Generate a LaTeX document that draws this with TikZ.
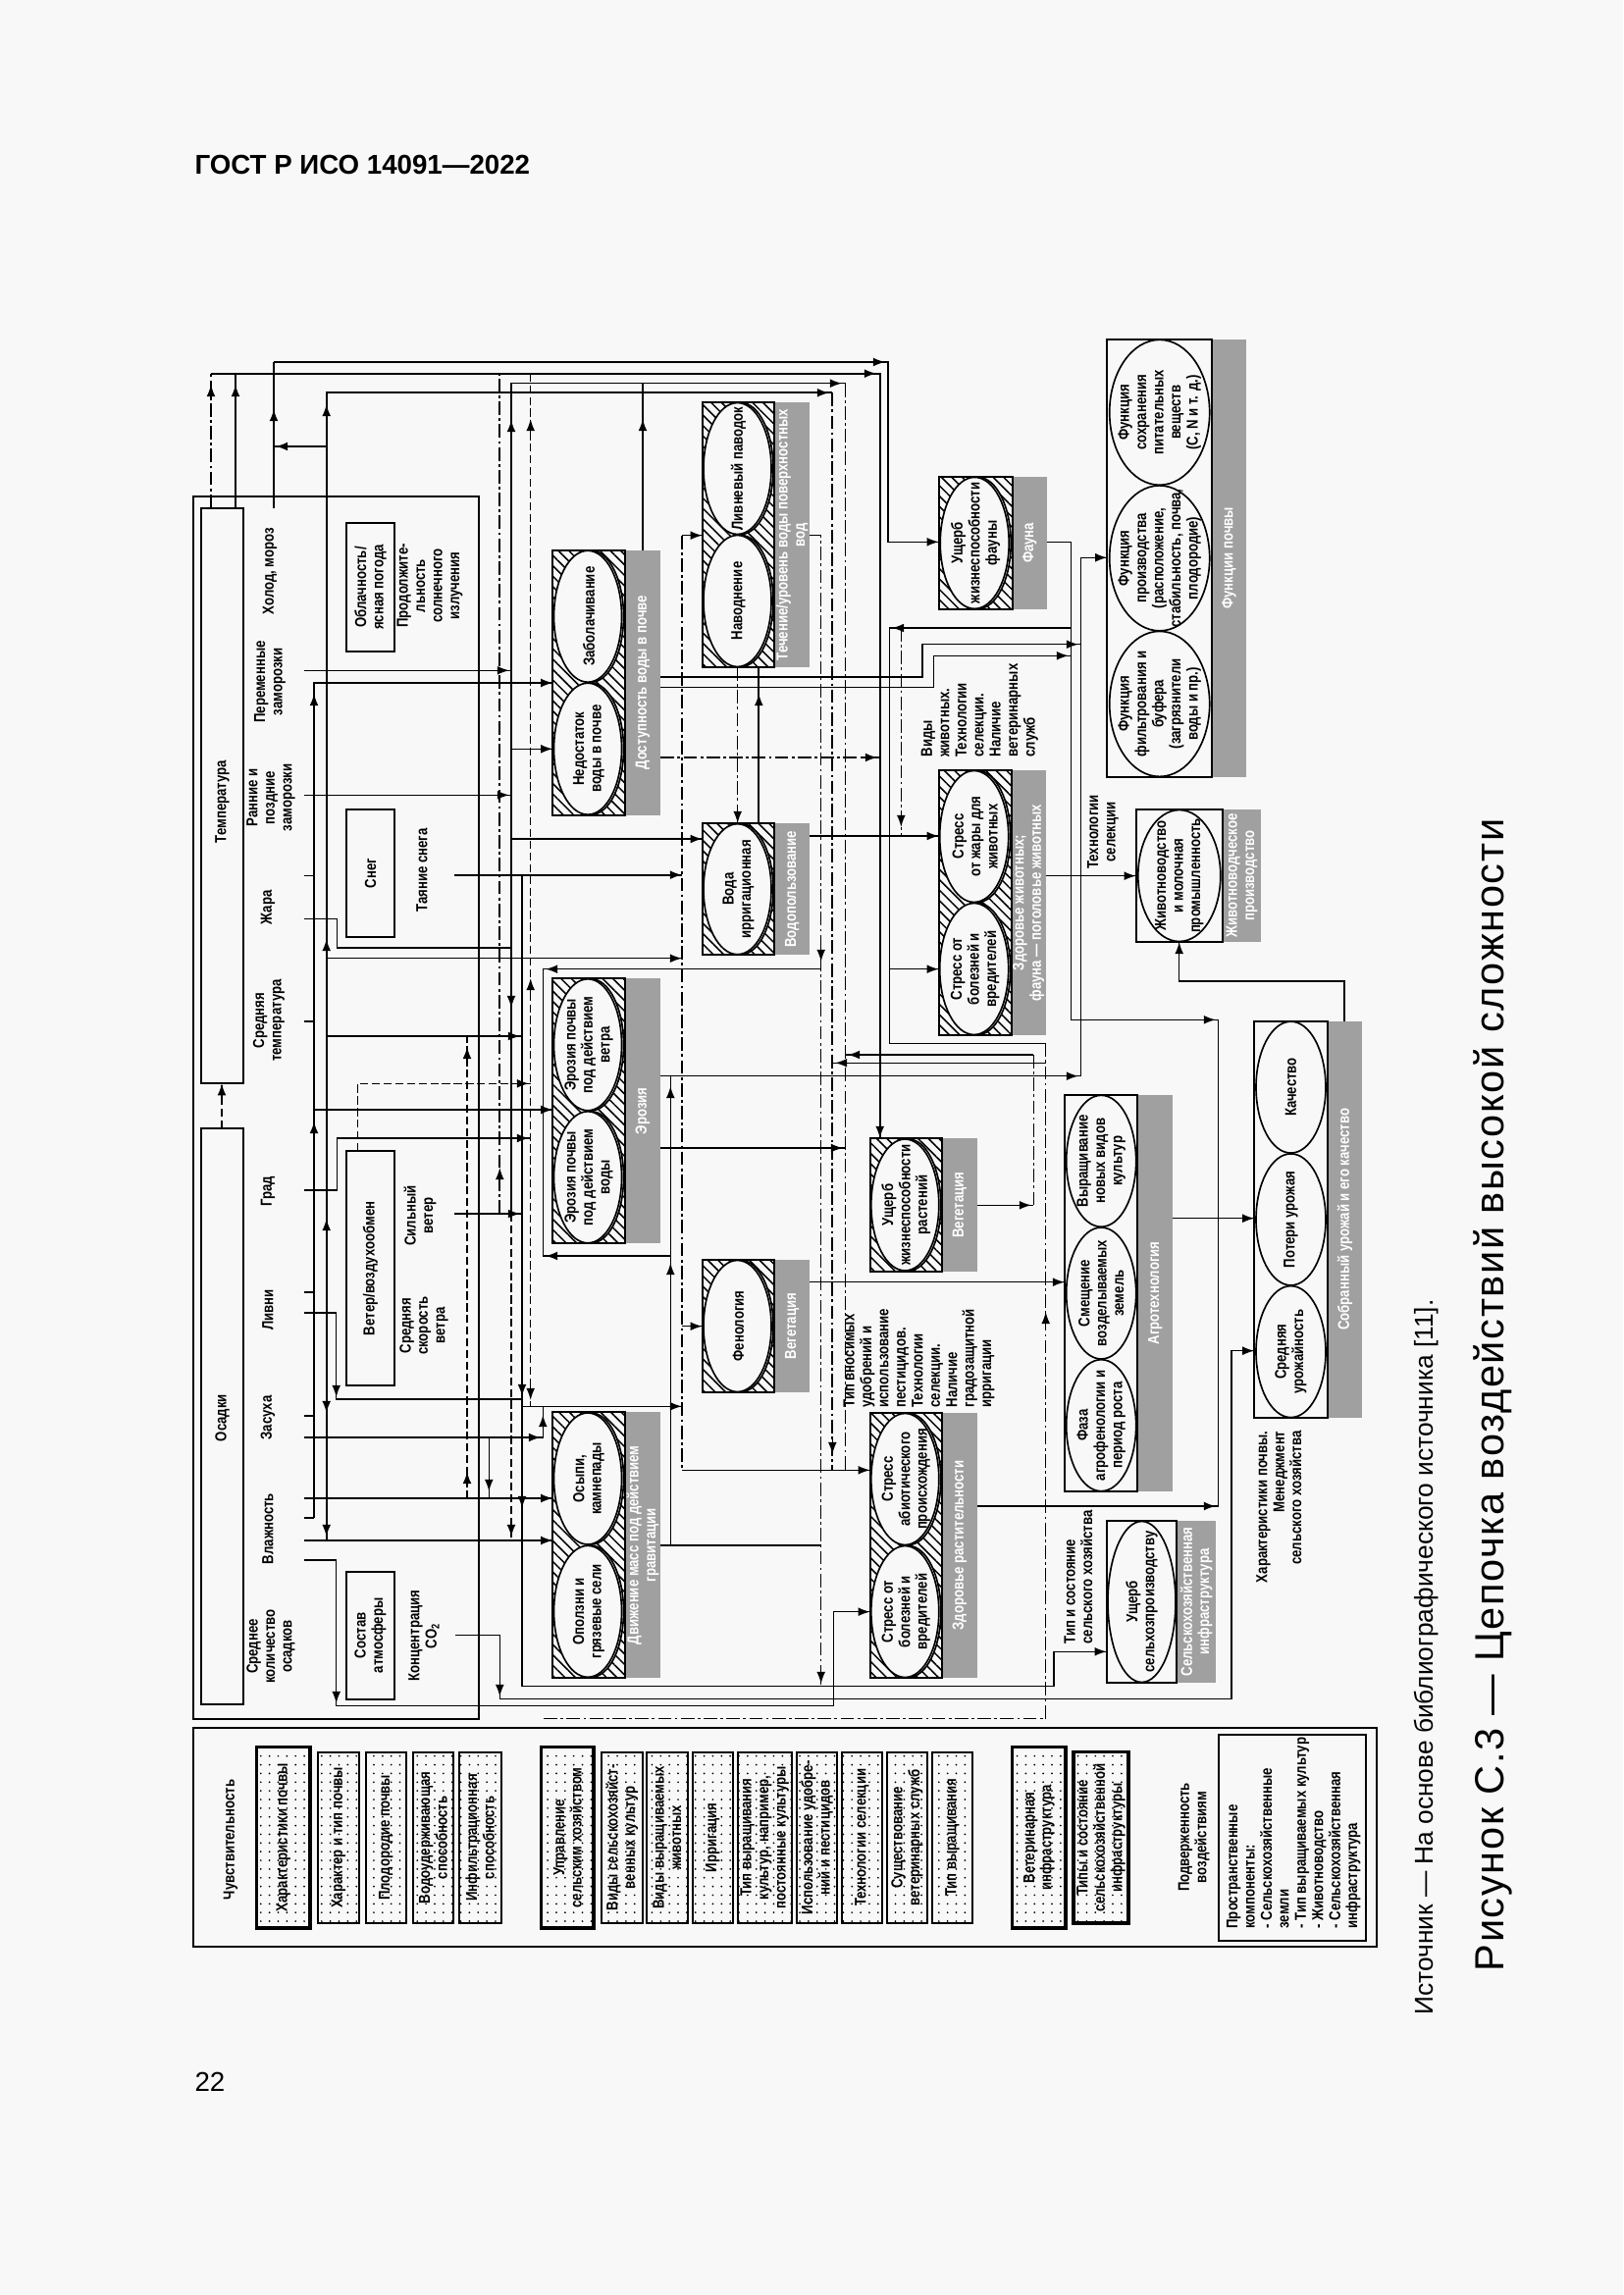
\documentclass[tikz,border=0pt]{standalone}
\usepackage{fontspec}
\setmainfont{Liberation Sans}
\newfontfamily\dfont{Liberation Sans}[FakeStretch=0.82]
\newfontfamily\capfont{Liberation Sans}[LetterSpace=4]
\usetikzlibrary{arrows.meta,patterns.meta}
\definecolor{lg}{RGB}{160,160,160}
\definecolor{bgc}{RGB}{248,248,248}
\tikzset{
 ln/.style={line width=0.55pt},
 tk/.style={line width=0.85pt},
 dd/.style={dash pattern=on 5pt off 1.2pt on 1pt off 1.2pt},
 ds/.style={dash pattern=on 3pt off 1.3pt},
 ah/.style={line width=0.55pt,-{Latex[length=4.4pt,width=3.2pt]}},
 tx/.style={font=\dfont\bfseries\fontsize{5.8}{6.3}\selectfont, rotate=90, align=center, inner sep=0pt},
 gl/.style={tx,text=white},
 bx/.style={draw,line width=0.6pt},
 hb/.style={draw,line width=0.7pt,pattern={Lines[angle=-45,distance=2.7pt,line width=0.55pt]}},
 el/.style={draw,line width=0.6pt,fill=bgc},
 ldot/.style={draw,line width=0.6pt,pattern={Dots[radius=0.35pt,distance=3.2pt]}},
 ldoth/.style={draw,line width=1.1pt,pattern={Dots[radius=0.35pt,distance=3.2pt]}},
}
\newcommand\aU[2]{\draw[ah] (#1,{#2+16}) -- (#1,#2);}
\newcommand\aD[2]{\draw[ah] (#1,{#2-16}) -- (#1,#2);}
\newcommand\aR[2]{\draw[ah] ({#1-16},#2) -- (#1,#2);}
\newcommand\aL[2]{\draw[ah] ({#1+16},#2) -- (#1,#2);}
\newcommand\hgrp[7]{%
  \fill[lg] (#2,#4) rectangle (#3,#5);
  \draw[hb] (#1,#4) rectangle (#2,#5);
  \node[gl] (#6) at ({(#2+#3)/2},{(#4+#5)/2}) {#7};}
\newcommand\pgrp[7]{%
  \fill[lg] (#2,#4) rectangle (#3,#5);
  \draw[bx] (#1,#4) rectangle (#2,#5);
  \node[gl] (#6) at ({(#2+#3)/2},{(#4+#5)/2}) {#7};}
\newcommand\dell[6]{%
  \draw[el] ({#1+2.5},#2) ellipse [x radius={(#3-1.5)*0.012697cm}, y radius={#4*0.012697cm}];
  \draw[el] ({#1-1},#2) ellipse [x radius={#3*0.012697cm}, y radius={#4*0.012697cm}];
  \node[tx] (#5) at (#1,#2) {#6};}
\newcommand\sell[6]{%
  \draw[el] (#1,#2) ellipse [x radius={#3*0.012697cm}, y radius={#4*0.012697cm}];
  \node[tx] (#5) at (#1,#2) {#6};}
\newcommand\lbox[7]{%
  \draw[#5] (#1,#3) rectangle (#2,#4);
  \node[tx] (#6) at ({(#1+#2)/2},{(#3+#4)/2}) {#7};}
\begin{document}
\begin{tikzpicture}[x=0.012697cm,y=-0.012697cm]
\useasboundingbox (0,0) rectangle (1654,2339);
\fill[bgc] (0,0) rectangle (1654,2339);
% header, page number, captions
\node[anchor=base west, inner sep=0pt, font=\bfseries\fontsize{10}{12}\selectfont] (hdr) at (198,178) {ГОСТ Р ИСО 14091—2022};
\node[anchor=base west, inner sep=0pt, font=\fontsize{10}{12}\selectfont] (pnum) at (198,2131) {22};
\node[rotate=90, inner sep=0pt, font=\fontsize{9.5}{11}\selectfont] (src) at (1454,1689) {Источник — На основе библиографического источника [11].};
\node[rotate=90, inner sep=0pt, font=\capfont\fontsize{15}{18}\selectfont] (cap) at (1521,1422) {Рисунок С.3 — Цепочка воздействий высокой сложности};

% ===== climate box =====
\draw[bx] (196.7,505.7) rectangle (487.7,1751.7);
\draw[bx,line width=0.8pt] (205,517.7) rectangle (248,1104.3);
\node[tx] (temp) at (226.5,817) {Температура};
\draw[bx,line width=0.8pt] (205,1150) rectangle (248,1736.7);
\node[tx] (osad) at (226.5,1445) {Осадки};
\draw[ln,ds] (226,1150) -- (226,1104.3); \aU{226}{1104.3}
\node[tx] (holod) at (275,582) {Холод, мороз};
\node[tx] (perem) at (275,695) {Переменные\\заморозки};
\node[tx] (rann) at (276,813) {Ранние и\\поздние\\заморозки};
\node[tx] (zhara) at (273,925) {Жара};
\node[tx] (sredt) at (274,1040) {Средняя\\температура};
\node[tx] (grad) at (273,1214) {Град};
\node[tx] (livni) at (273,1335) {Ливни};
\node[tx] (zasuha) at (273,1445) {Засуха};
\node[tx] (vlazh) at (273,1558) {Влажность};
\node[tx] (sredo) at (276,1678) {Среднее\\количество\\осадков};
\draw[bx] (353,533) rectangle (402,664);
\node[tx] (obl) at (377.5,598.5) {Облачность/\\ясная погода};
\node[tx] (prod) at (438,597) {Продолжите-\\льность\\солнечного\\излучения};
\draw[bx] (353,825) rectangle (402,955);
\node[tx] (sneg) at (377.5,890) {Снег};
\node[tx] (tayan) at (430,887) {Таяние снега};
\draw[bx] (353,1173.3) rectangle (402,1412.3);
\node[tx] (veter) at (377.5,1292.8) {Ветер/воздухообмен};
\node[tx] (silv) at (428,1239) {Сильный\\ветер};
\node[tx] (sredv) at (432,1351) {Средняя\\скорость\\ветра};
\draw[bx] (353,1601.7) rectangle (402,1732);
\node[tx] (sostav) at (377.5,1666.8) {Состав\\атмосферы};
\node[tx] (co2) at (432,1667) {Концентрация\\CO\textsubscript{2}};

% ===== groups =====
\hgrp{563.3}{636.7}{673.3}{560.7}{830.7}{g1}{Доступность воды в почве}
\dell{600}{628.2}{34.5}{67}{e1a}{Заболачивание}
\dell{600}{763.2}{34.5}{67}{e1b}{Недостаток\\воды в почве}
\hgrp{715.7}{789.3}{825}{410}{680}{g2}{Течение/уровень воды поверхностных\\вод}
\dell{752.5}{477.5}{34.5}{67}{e2a}{Ливневый паводок}
\dell{752.5}{612.5}{34.5}{67}{e2b}{Наводнение}
\hgrp{715.7}{789.3}{825}{839}{973.3}{g3}{Водопользование}
\dell{752.5}{906.2}{34.5}{66.5}{e3}{Вода\\ирригационная}
\hgrp{956.7}{1031.7}{1066.7}{485.7}{621}{g4}{Фауна}
\dell{994.2}{553.4}{35}{67}{e4}{Ущерб\\жизнеспособности\\фауны}
\hgrp{563.3}{636.7}{673.3}{997.3}{1267.3}{g5}{Эрозия}
\dell{600}{1064.8}{34.5}{67}{e5a}{Эрозия почвы\\под действием\\ветра}
\dell{600}{1199.8}{34.5}{67}{e5b}{Эрозия почвы\\под действием\\воды}
\hgrp{715.7}{789.3}{825}{1284}{1419}{g6}{Вегетация}
\dell{752.5}{1351.5}{34.5}{67}{e6}{Фенология}
\hgrp{563.3}{636.7}{673.3}{1439.3}{1710}{g7}{Движение масс под действием\\гравитации}
\dell{600}{1507}{34.5}{67}{e7a}{Осыпи,\\камнепады}
\dell{600}{1642.3}{34.5}{67}{e7b}{Оползни и\\грязевые сели}
\hgrp{886.7}{960}{995.7}{1440}{1710}{g8}{Здоровье растительности}
\dell{923.3}{1507.5}{34.5}{67}{e8a}{Стресс\\абиотического\\происхождения}
\dell{923.3}{1642.5}{34.5}{67}{e8b}{Стресс от\\болезней и\\вредителей}
\hgrp{886.7}{960}{995.7}{1160}{1296}{g9}{Вегетация}
\dell{923.3}{1228}{34.5}{67}{e9}{Ущерб\\жизнеспособности\\растений}
\hgrp{956.7}{1030.7}{1065.7}{785}{1055}{g10}{Здоровье животных;\\фауна — поголовье животных}
\dell{993.7}{852.5}{35}{67}{e10a}{Стресс\\от жары для\\животных}
\dell{993.7}{987.5}{35}{67}{e10b}{Стресс от\\болезней и\\вредителей}
\pgrp{1157.7}{1246}{1285}{825}{960}{g11}{Животноводческое\\производство}
\sell{1201.8}{892.5}{42}{67}{e11}{Животноводство\\и молочная\\промышленность}
\pgrp{1128.3}{1235}{1270}{346}{791.7}{g12}{Функции почвы}
\sell{1181.7}{420.3}{51}{74}{e12a}{Функция\\сохранения\\питательных\\веществ\\(C, N и т. д.)}
\sell{1181.7}{568.9}{51}{74}{e12b}{Функция\\производства\\(расположение,\\стабильность, почва,\\плодородие)}
\sell{1181.7}{717.4}{51}{74}{e12c}{Функция\\фильтрования и\\буфера\\(загрязнители\\воды и пр.)}
\pgrp{1085}{1159.3}{1195}{1116}{1520}{g13}{Агротехнология}
\sell{1122.2}{1183.3}{35.5}{67}{e13a}{Выращивание\\новых видов\\культур}
\sell{1122.2}{1318}{35.5}{67}{e13b}{Смещение\\возделываемых\\земель}
\sell{1122.2}{1452.7}{35.5}{67}{e13c}{Фаза\\агрофенологии и\\период роста}
\pgrp{1278.3}{1352.7}{1388.3}{1040.7}{1445}{g14}{Собранный урожай и его качество}
\sell{1315.5}{1108.1}{35.5}{67}{e14a}{Качество}
\sell{1315.5}{1242.9}{35.5}{67}{e14b}{Потери урожая}
\sell{1315.5}{1377.6}{35.5}{67}{e14c}{Средняя\\урожайность}
\pgrp{1127.7}{1199.3}{1239}{1550}{1715}{g15}{Сельскохозяйственная\\инфраструктура}
\sell{1163.5}{1632.5}{34.5}{82}{e15}{Ущерб\\сельхозпроизводству}

% notes
\node[tx, align=left, anchor=west] (t1) at (998.4,772) {Виды\\животных.\\Технологии\\селекции.\\Наличие\\ветеринарных\\служб};
\node[tx, align=left, anchor=west] (t2) at (936.5,1435) {Тип вносимых\\удобрений и\\использование\\пестицидов.\\Технологии\\селекции.\\Наличие\\градозащитной\\ирригации};
\node[tx, align=left, anchor=west] (t3) at (1099,1676) {Тип и состояние\\сельского хозяйства};
\node[tx, align=right, anchor=east] (t4) at (1303.3,1458) {Характеристики почвы.\\Менеджмент\\сельского хозяйства};
\node[tx] (t5) at (1124,848) {Технологии\\селекции};

% ===== connectors =====
\draw[tk] (279,517.7) -- (279,369); \aU{279}{417}
\draw[ln] (279,369) -- (905,369) -- (905,552.3) -- (956.7,552.3); \aR{902}{369} \aR{956.7}{552.3}
\draw[ln,dd] (215,517.7) -- (215,380.7); \aU{215}{392}
\draw[ln] (240,517.7) -- (240,380.7); \aU{240}{392}
\draw[tk] (215,380.7) -- (896.7,380.7) -- (896.7,1160); \aR{893}{380.7} \aD{896.7}{1160}
\draw[ln] (521,1237) -- (521,390.7) -- (861.7,390.7); \aU{521}{428} \aR{858}{390.7} \aD{521}{1027}
\draw[ln,ds] (521,1237) -- (521,1570); \aD{521}{1566}
\draw[ln,dd] (861.7,390.7) -- (861.7,1498.3);
\draw[tk] (332.7,1570) -- (332.7,400.3) -- (848.3,400.3); \aU{332.7}{412} \aR{845}{400.3}
\draw[tk,dd] (848.3,400.3) -- (848.3,1498.3); \aD{848.3}{1482}
\aU{332.7}{957} \aU{332.7}{1242} \aD{332.7}{1440} \aD{332.7}{1566}
\draw[ln] (332.7,455) -- (279,455); \aL{281}{455}
\draw[tk,dd] (509.3,1237) -- (509.3,380.7); \aU{509.3}{1190}
\draw[ln,ds] (540.7,380.7) -- (540.7,1433.3); \aU{540.7}{427} \aU{540.7}{997} \aD{540.7}{1427}
\draw[ln] (310,683.3) -- (521,683.3); \aR{519}{683.3}
\draw[tk] (320,1547) -- (320,696) -- (563.3,696); \aR{563.3}{696} \aU{320}{707} \aU{320}{1143}
\foreach \yy in {892.7,1041,1213,1317,1443,1547} {\draw[ln] (310,\yy) -- (320,\yy);}
\draw[ln] (521,763.3) -- (563.3,763.3); \aR{563.3}{763.3}
\draw[ln] (310,810.3) -- (521,810.3); \aR{519}{810.3}
\draw[ln] (521,855) -- (715.7,855); \aR{715.7}{855}
\draw[tk] (463.3,891.7) -- (695,891.7); \aR{695}{891.7}
\draw[ln] (532,891.7) -- (532,1718.3) -- (1074,1718.3) -- (1074,1683.3) -- (1127.7,1683.3); \aR{1127.7}{1683.3} \aD{532}{1423} \aD{532}{1537}
\draw[ln] (310,936.7) -- (343.3,936.7) -- (343.3,966) -- (521,966);
\draw[ln] (332.7,976.7) -- (695,976.7); \aR{695}{976.7}
\draw[ln] (332.7,1056) -- (532,1056); \aR{530}{1056}
\draw[tk,ds] (476,1527) -- (476,1056); \aU{476}{1067} \aU{476}{1500}
\draw[ln,ds] (364.7,1173.3) -- (364.7,1104.3) -- (540.7,1104.3); \aR{539}{1104.3}
\draw[ln] (320,1131) -- (563.3,1131); \aR{563.3}{1131}
\draw[ln] (310,1213) -- (343.3,1213) -- (343.3,1160) -- (540.7,1160); \aR{539}{1160}
\draw[ln] (463.3,1237) -- (532,1237); \aR{530}{1237}
\draw[ln] (310,1338) -- (342.7,1338) -- (342.7,1426) -- (532,1426); \aD{342.7}{1424}
\draw[ln] (836.7,987.7) -- (553.3,987.7) -- (553.3,1280) -- (683.3,1280); \aL{556}{987.7} \aL{556}{1280}
\draw[ln] (673.3,1575) -- (836.7,1575);
\draw[ln] (683.3,1575) -- (683.3,1096.7); \aU{683.3}{1287} \aU{683.3}{1107}
\draw[ln] (310,1465) -- (553.3,1465) -- (553.3,1433.3); \aR{551}{1465} \aU{553.3}{1442}
\draw[ln] (532,1433.3) -- (695,1433.3); \aR{695}{1433.3}
\draw[ln] (310,1527) -- (563.3,1527); \aR{563.3}{1527}
\draw[ln] (498.3,1465) -- (498.3,1527); \aD{498.3}{1520}
\draw[ln] (310,1570) -- (563.3,1570); \aR{563.3}{1570}
\draw[ln] (310,1590) -- (342.7,1590) -- (342.7,1738.3) -- (849.3,1738.3) -- (849.3,1642.7) -- (886.7,1642.7); \aD{342.7}{1736} \aR{886.7}{1642.7}
\draw[ln] (464,1666.7) -- (509.3,1666.7) -- (509.3,1731.7) -- (1255,1731.7) -- (1255,1376.7) -- (1278.3,1376.7); \aD{509.3}{1729} \aR{1278.3}{1376.7}
\draw[ln,dd] (825,545.7) -- (836.7,545.7) -- (836.7,1718.3); \aD{836.7}{980} \aD{836.7}{1716}
\draw[ln,dd] (695,545.7) -- (695,1498.3);
\draw[ln] (695,545.7) -- (715.7,545.7); \aR{715.7}{545.7}
\draw[ln] (695,1351.7) -- (715.7,1351.7); \aR{715.7}{1351.7}
\draw[ln] (695,1498.3) -- (886.7,1498.3); \aR{886.7}{1498.3}
\draw[ln] (655,560.7) -- (655,390.7); \aU{655}{427}
\draw[ln,dd] (751.7,680) -- (751.7,839); \aD{751.7}{839}
\draw[tk] (773.3,839) -- (773.3,680); \aU{773.3}{707}
\draw[ln,dd] (673.3,772) -- (896.7,772); \aR{894}{772}
\draw[ln] (673.3,690) -- (940,690) -- (940,656.7) -- (1101.7,656.7); \aR{1099}{656.7}
\draw[ln] (673.3,700.7) -- (951.7,700.7) -- (951.7,668.3) -- (1091.7,668.3); \aR{1089}{668.3}
\draw[ln] (1066.7,552.3) -- (1091.7,552.3) -- (1091.7,1039.3) -- (1241.7,1039.3) -- (1241.7,1535); \aR{1239}{1039.3}
\draw[ln] (1091.7,640) -- (906.7,640) -- (906.7,1063.3) -- (1065.7,1063.3); \aL{909}{640}
\draw[ln,dd] (1065.7,1063.3) -- (1065.7,1751.7) -- (551.7,1751.7); \aU{1065.7}{1337}
\draw[ln,dd] (1053.3,1075) -- (1053.3,1228.3);
\draw[ln,dd] (918.3,640) -- (918.3,852); \aD{918.3}{843}
\draw[ln] (825,852) -- (956.7,852); \aR{956.7}{852}
\draw[ln] (906.7,987.7) -- (956.7,987.7); \aR{956.7}{987.7}
\draw[ln] (673.3,1096.7) -- (1101.7,1096.7) -- (1101.7,568.3) -- (1128.3,568.3); \aR{1099}{1096.7} \aR{1128.3}{568.3}
\draw[ln] (1065.7,892.7) -- (1157.7,892.7); \aR{1157.7}{892.7}
\draw[ln] (1370,1040.7) -- (1370,1000) -- (1201.7,1000) -- (1201.7,960); \aU{1201.7}{960}
\draw[ln] (673.3,1170) -- (861.7,1170); \aR{859}{1170}
\draw[ln] (861.7,1075) -- (1053.3,1075); \aL{864}{1075}
\draw[ln] (995.7,1228.3) -- (1053.3,1228.3); \aR{1051}{1228.3}
\draw[ln] (848.3,1083.3) -- (1065.7,1083.3); \aL{851}{1083.3}
\draw[ln] (825,1306.7) -- (1085,1306.7); \aR{1085}{1306.7}
\draw[ln] (995.7,1535) -- (1241.7,1535); \aR{1239}{1535}
\draw[ln] (1195,1241.7) -- (1278.3,1241.7); \aR{1278.3}{1241.7}

% ===== legend =====
\draw[bx] (196.7,1761) rectangle (1403.3,1984);
\node[tx] (lsens) at (235,1875) {Чувствительность};
\lbox{261.7}{316}{1780.7}{1965}{ldoth}{la}{Характеристики почвы}
\lbox{324}{366}{1785.7}{1960}{ldot}{lb}{Характер и тип почвы}
\lbox{372.7}{414}{1785.7}{1960}{ldot}{lc}{Плодородие почвы}
\lbox{420.7}{462.3}{1785.7}{1960}{ldot}{ld}{Водоудерживающая\\способность}
\lbox{467.7}{510.7}{1785.7}{1960}{ldot}{le}{Инфильтрационная\\способность}
\lbox{551.7}{605}{1780.7}{1965}{ldoth}{lf}{Управление\\сельским хозяйством}
\lbox{612.7}{655}{1785.7}{1960}{ldot}{lg1}{Виды сельскохозяйст-\\венных культур}
\lbox{659}{700.7}{1785.7}{1960}{ldot}{lh}{Виды выращиваемых\\животных}
\lbox{706}{746.7}{1785.7}{1960}{ldot}{li}{Ирригация}
\lbox{751.7}{806.7}{1785.7}{1960}{ldot}{lj}{Тип выращивания\\культур, например,\\постоянные культуры}
\lbox{811.7}{853.3}{1785.7}{1960}{ldot}{lk}{Использование удобре-\\ний и пестицидов}
\lbox{857.7}{899}{1785.7}{1960}{ldot}{ll}{Технологии селекции}
\lbox{904}{945}{1785.7}{1960}{ldot}{lm}{Существование\\ветеринарных служб}
\lbox{950}{991}{1785.7}{1960}{ldot}{ln1}{Тип выращивания}
\lbox{1031.7}{1086}{1780.7}{1965}{ldoth}{lo}{Ветеринарная\\инфраструктура}
\lbox{1094}{1150}{1785.7}{1960}{ldoth}{lp}{Типы и состояние\\сельскохозяйственной\\инфраструктуры}
\node[tx] (lpodv) at (1216.7,1872.5) {Подверженность\\воздействиям};
\draw[bx] (1241.7,1767.7) rectangle (1391.7,1978.3);
\node[tx, align=left, anchor=west] (lspace) at (1318.3,1966) {Пространственные\\компоненты:\\- Сельскохозяйственные\\земли\\- Тип выращиваемых культур\\- Животноводство\\- Сельскохозяйственная\\инфраструктура};
\end{tikzpicture}
\end{document}
